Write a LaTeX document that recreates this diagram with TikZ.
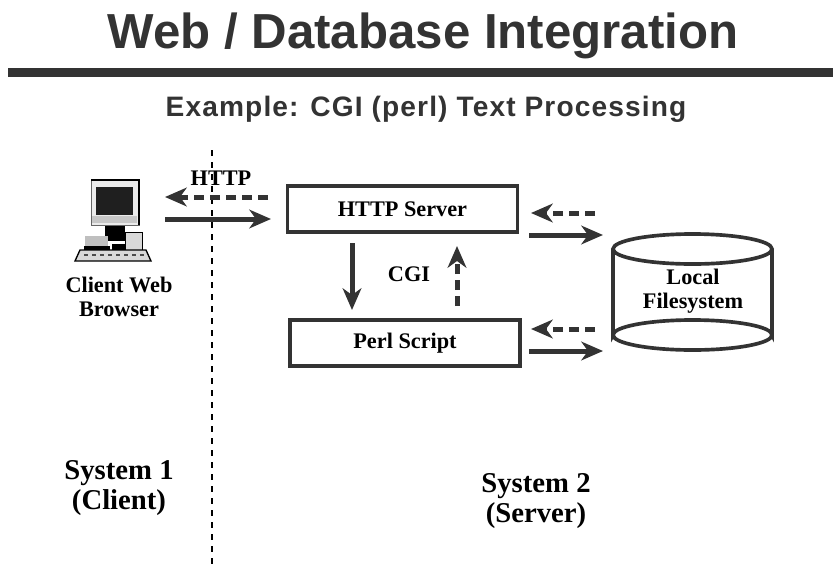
\documentclass[tikz,border=0pt]{standalone}
\usepackage{fontspec}
\setmainfont{Liberation Serif}
\setsansfont{Liberation Sans}
\usetikzlibrary{arrows.meta}
\definecolor{inkgray}{HTML}{333333}
\tikzset{
	solidarrow/.style={draw=inkgray,line width=1.5mm,-{Stealth[length=6.5mm,width=5.6mm,inset=2mm]}},
	dasharrow/.style={solidarrow,dash pattern=on 3mm off 1.8mm},
	procbox/.style={draw=inkgray,line width=1.1mm,minimum width=6.9cm,minimum height=1.38cm,font=\bfseries\fontsize{19}{21}\selectfont},
	smalllabel/.style={font=\bfseries\fontsize{19}{20.5}\selectfont,align=center,text=black},
	syslabel/.style={font=\bfseries\fontsize{24.5}{26}\selectfont,align=center,text=black}
}
\begin{document}
\begin{tikzpicture}[x=0.3mm,y=-0.3mm]
	\useasboundingbox (0, 0) rectangle (833, 567);
	%%%%% HEADER %%%%%
	\node[font=\sffamily\bfseries\fontsize{42}{44}\selectfont,text=inkgray] (title) at (423, 36) {Web / Database Integration};
	\fill[inkgray] (8, 68) rectangle (833, 77);
	\node[font=\sffamily\bfseries\fontsize{24}{26}\selectfont\addfontfeature{LetterSpace=4},text=inkgray] (subtitle) at (426, 109) {Example: CGI (perl) Text Processing};

	%%%%% DIVIDER %%%%%
	\coordinate (divtop) at (212, 150);
	\coordinate (divbot) at (212, 567);
	\draw[black,line width=0.5mm,dash pattern=on 1.9mm off 1.7mm] (divtop) -- (divbot);

	%%%%% CLIENT PC %%%%%
	\draw[fill=black!8,draw=black!60,line width=0.3mm] (91, 180) rectangle (139, 225);
	\fill[black!88] (96, 187) rectangle (133, 215);
	\fill[black!22] (92, 216) rectangle (137, 223);
	\draw[black,line width=0.5mm] (91, 180) -- (139, 180) -- (139, 225);
	\fill[black] (105, 226) rectangle (125, 241);
	\fill[black!25] (85, 236) rectangle (108, 246);
	\fill[black!15,draw=black,line width=0.3mm] (125, 232) rectangle (142, 255);
	\fill[black] (84, 246) rectangle (110, 250);
	\draw[fill=black!15,line width=0.4mm] (75, 261) -- (80, 250) -- (146, 250) -- (151, 261) -- cycle;
	\foreach \k in {84, 92, 100, 108, 116, 124, 132, 140}
		\fill[black!70] (\k, 254) rectangle ++(4, 2);
	\fill[black] (112, 244) rectangle (125, 250);
	\node[smalllabel] (clientlabel) at (119, 297) {Client Web\\Browser};

	%%%%% BOXES %%%%%
	\node[procbox] (server) at (402.5, 209) {HTTP Server};
	\node[procbox] (script) at (405, 343) {Perl Script};

	%%%%% FILESYSTEM %%%%%
	\draw[draw=inkgray,line width=1.1mm] (613, 249) -- (613, 335) arc (180:360:79.5 and 15) -- (772, 249);
	\draw[draw=inkgray,line width=1.1mm] (692.5, 249) ellipse (79.5 and 15);
	\draw[draw=inkgray,line width=1.1mm] (613, 335) arc (180:0:79.5 and 15);
	\node[smalllabel] (fslabel) at (693, 291) {Local\\Filesystem};

	%%%%% FREE ENDS %%%%%
	\coordinate (clientup) at (165, 197);
	\coordinate (clientdn) at (165, 219);
	\coordinate (srvout) at (268, 197);
	\coordinate (srvin) at (271, 219);
	\coordinate (cgidowna) at (352, 243);
	\coordinate (cgidownb) at (352, 310);
	\coordinate (cgiupa) at (457, 306);
	\coordinate (cgiupb) at (457, 246);
	\coordinate (fstopa) at (595, 213);
	\coordinate (fstopb) at (531, 213);
	\coordinate (fstopc) at (529, 235);
	\coordinate (fstopd) at (603, 235);
	\coordinate (fsbota) at (595, 329);
	\coordinate (fsbotb) at (531, 329);
	\coordinate (fsbotc) at (529, 351);
	\coordinate (fsbotd) at (603, 351);

	%%%%% ARROWS %%%%%
	\draw[dasharrow] (srvout) -- (clientup);
	\draw[solidarrow] (clientdn) -- (srvin);
	\draw[solidarrow] (cgidowna) -- (cgidownb);
	\draw[dasharrow] (cgiupa) -- (cgiupb);
	\draw[dasharrow] (fstopa) -- (fstopb);
	\draw[solidarrow] (fstopc) -- (fstopd);
	\draw[dasharrow] (fsbota) -- (fsbotb);
	\draw[solidarrow] (fsbotc) -- (fsbotd);

	%%%%% LABELS %%%%%
	\node[smalllabel] (httplabel) at (221, 178) {HTTP};
	\node[smalllabel] (cgilabel) at (409, 274) {CGI};
	\node[syslabel] (sysclient) at (119, 488) {System 1\\(Client)};
	\node[syslabel] (sysserver) at (536, 501) {System 2\\(Server)};
\end{tikzpicture}
\end{document}
